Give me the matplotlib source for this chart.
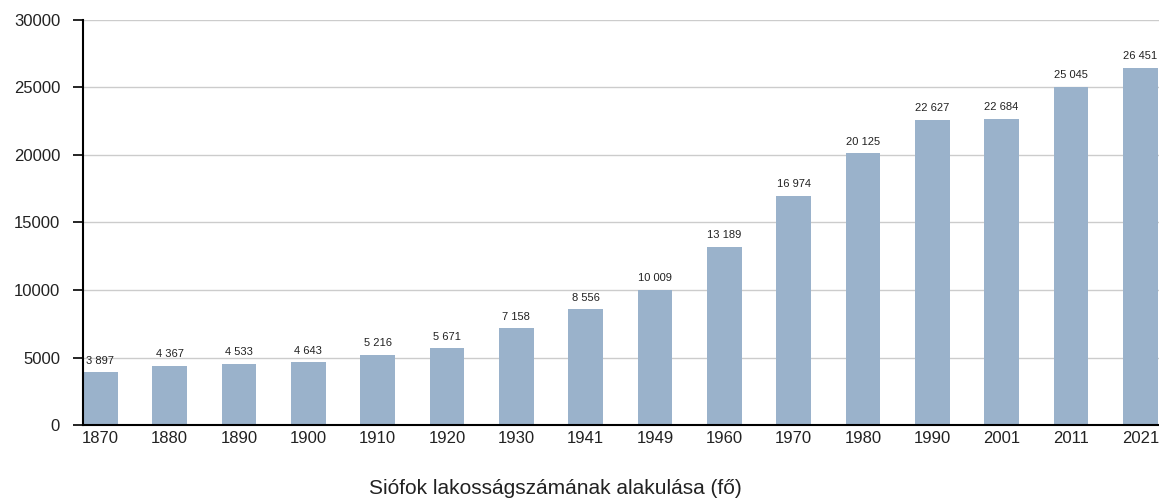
import matplotlib
matplotlib.use('Agg')
import matplotlib.pyplot as plt

years = ['1870', '1880', '1890', '1900', '1910', '1920', '1930', '1941',
         '1949', '1960', '1970', '1980', '1990', '2001', '2011', '2021']
population = [3897, 4367, 4533, 4643, 5216, 5671, 7158, 8556,
              10009, 13189, 16974, 20125, 22627, 22684, 25045, 26451]
y_ticks = [0, 5000, 10000, 15000, 20000, 25000, 30000]

plt.rcParams['font.family'] = ['Liberation Sans', 'DejaVu Sans']

fig = plt.figure(figsize=(11.59, 5), dpi=100)
ax = fig.add_axes([83 / 1159, 75 / 500, 1 - 83 / 1159, 405 / 500])

x = list(range(len(years)))
ax.bar(x, population, width=0.5, color='#9ab2cb', zorder=2)

for xi, v in zip(x, population):
    label = f'{v:,}'.replace(',', ' ')
    ax.text(xi, v + 500, label, ha='center', va='bottom', fontsize=8, color='#222222', zorder=3)

ax.set_xlim(-0.25, 15.27)
ax.set_ylim(0, 30000)
ax.set_yticks(y_ticks)
ax.set_yticklabels([str(t) for t in y_ticks])
ax.set_xticks(x)
ax.set_xticklabels(years)
ax.yaxis.grid(True, color='#cccccc', linewidth=1, zorder=0)
ax.tick_params(axis='y', length=7, width=1.2, labelsize=12, pad=9.5, labelcolor='#222222')
ax.tick_params(axis='x', length=0, labelsize=12, pad=4, labelcolor='#222222')

for side in ('top', 'right'):
    ax.spines[side].set_visible(False)
for side in ('left', 'bottom'):
    ax.spines[side].set_linewidth(1.5)
    ax.spines[side].set_zorder(4)

fig.text(555 / 1159, 11 / 500, 'Siófok lakosságszámának alakulása (fő)',
         ha='center', va='center', fontsize=15, color='#222222')

plt.savefig('out.png', dpi=100)
plt.close(fig)
